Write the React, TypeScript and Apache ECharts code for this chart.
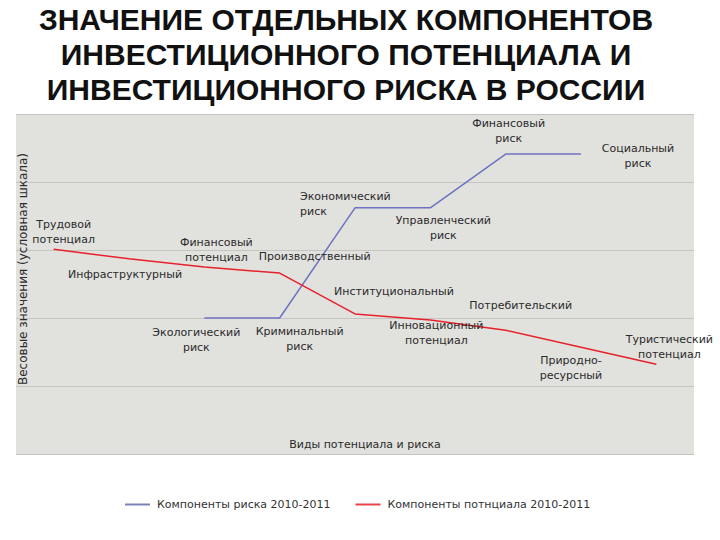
import React, { useEffect, useRef } from "react";
import * as echarts from "echarts";

const titleLines = [
  "ЗНАЧЕНИЕ ОТДЕЛЬНЫХ КОМПОНЕНТОВ",
  "ИНВЕСТИЦИОННОГО ПОТЕНЦИАЛА И",
  "ИНВЕСТИЦИОННОГО РИСКА В РОССИИ",
];
const yAxisName = "Весовые значения (условная шкала)";
const xAxisName = "Виды потенциала и риска";
const slots = ["1", "2", "3", "4", "5", "6", "7", "8", "9"];

const riskSeriesName = "Компоненты риска 2010-2011";
const potentialSeriesName = "Компоненты потнциала 2010-2011";

const riskNames = [
  "",
  "",
  "Экологический\nриск",
  "Криминальный\nриск",
  "Экономический\nриск",
  "Управленческий\nриск",
  "Финансовый\nриск",
  "Социальный\nриск",
  "",
];
const riskValues: (number | null)[] = [null, null, 2.0, 2.0, 3.62, 3.62, 4.41, 4.41, null];

const potentialNames = [
  "Трудовой\nпотенциал",
  "Инфраструктурный",
  "Финансовый\nпотенциал",
  "Производственный",
  "Институциональный",
  "Инновационный\nпотенциал",
  "Потребительский",
  "Природно-\nресурсный",
  "Туристический\nпотенциал",
];
const potentialValues = [3.01, 2.87, 2.75, 2.66, 2.06, 1.97, 1.82, 1.57, 1.32];

// label placement (offset of label centre from its point), kept apart from the data
const riskLabelLayout: { dx: number; dy: number; align?: string }[] = [
  { dx: 0, dy: 0 },
  { dx: 0, dy: 0 },
  { dx: -8, dy: 22 },
  { dx: 20, dy: 21 },
  { dx: -55, dy: -4, align: "left" },
  { dx: 13, dy: 20 },
  { dx: 3, dy: -23 },
  { dx: 57, dy: 2 },
  { dx: 0, dy: 0 },
];
const potentialLabelLayout: { dx: number; dy: number; align?: string }[] = [
  { dx: 10, dy: -17 },
  { dx: -4, dy: 16 },
  { dx: 12, dy: -17 },
  { dx: 35, dy: -17 },
  { dx: 39, dy: -22 },
  { dx: 6, dy: 13 },
  { dx: 15, dy: -25 },
  { dx: -10, dy: 21 },
  { dx: 13, dy: -17 },
];

const FONT = "DejaVu Sans";
const LABEL_COLOR = "#2b2b2b";

function buildData(
  values: (number | null)[],
  names: string[],
  layout: { dx: number; dy: number; align?: string }[]
) {
  return values.map((v, i) => {
    if (v === null) return null;
    return {
      value: v,
      label: {
        show: true,
        formatter: names[i],
        position: "inside",
        align: layout[i].align || "center",
        verticalAlign: "middle",
        offset: [layout[i].dx, layout[i].dy],
        color: LABEL_COLOR,
        fontFamily: FONT,
        fontSize: 11,
        lineHeight: 15,
      },
    };
  });
}

export default function App() {
  const ref = useRef<HTMLDivElement>(null);

  useEffect(() => {
    if (!ref.current) return;
    const chart = echarts.init(ref.current, undefined, { renderer: "svg" });
    chart.setOption({
      animation: false,
      backgroundColor: "#ffffff",
      title: {
        text: titleLines.join("\n"),
        left: 341,
        top: -3,
        textAlign: "center",
        textStyle: {
          fontFamily: "Liberation Sans",
          fontWeight: "bold",
          fontSize: 30,
          lineHeight: 35,
          color: "#111111",
        },
      },
      legend: {
        left: 120,
        top: 494,
        itemWidth: 25,
        itemHeight: 2,
        itemGap: 25,
        icon: "rect",
        selectedMode: false,
        textStyle: { fontFamily: FONT, fontSize: 11, color: "#333333", padding: [0, 0, 0, 2] },
        data: [
          { name: riskSeriesName, itemStyle: { color: "#7b82b8" } },
          { name: potentialSeriesName, itemStyle: { color: "#e8424a" } },
        ],
      },
      grid: {
        left: 16,
        top: 114,
        width: 678,
        height: 340,
        show: true,
        backgroundColor: "#e1e1dd",
        borderWidth: 0,
        containLabel: false,
        outerBoundsMode: "none",
      },
      xAxis: {
        type: "category",
        data: slots,
        boundaryGap: true,
        axisLine: { show: false },
        axisTick: { show: false },
        axisLabel: { show: false },
        splitLine: { show: false },
        name: xAxisName,
        nameLocation: "middle",
        nameGap: -15,
        nameTextStyle: {
          fontFamily: FONT,
          fontSize: 11,
          color: LABEL_COLOR,
          padding: [0, 0, 0, 20],
        },
      },
      yAxis: {
        type: "value",
        min: 0,
        max: 5,
        interval: 1,
        axisLine: { show: false },
        axisTick: { show: false },
        axisLabel: { show: false },
        splitLine: { show: true, lineStyle: { color: "#c4c4c0", width: 1 } },
        name: yAxisName,
        nameLocation: "middle",
        nameRotate: 90,
        nameGap: -13,
        nameTextStyle: {
          fontFamily: FONT,
          fontSize: 12,
          color: LABEL_COLOR,
          padding: [0, 0, 0, 30],
        },
      },
      series: [
        {
          name: riskSeriesName,
          type: "line",
          data: buildData(riskValues, riskNames, riskLabelLayout),
          symbol: "circle",
          symbolSize: 0,
          showSymbol: true,
          connectNulls: false,
          silent: true,
          lineStyle: { color: "#6d73c2", width: 1.5 },
          itemStyle: { color: "#6d73c2" },
          emphasis: { disabled: true },
        },
        {
          name: potentialSeriesName,
          type: "line",
          data: buildData(potentialValues, potentialNames, potentialLabelLayout),
          symbol: "circle",
          symbolSize: 0,
          showSymbol: true,
          silent: true,
          lineStyle: { color: "#e6222c", width: 1.5 },
          itemStyle: { color: "#e6222c" },
          emphasis: { disabled: true },
        },
      ],
    });
    return () => chart.dispose();
  }, []);

  return (
    <div
      ref={ref}
      style={{ position: "absolute", left: 0, top: 0, width: 720, height: 540 }}
    />
  );
}
